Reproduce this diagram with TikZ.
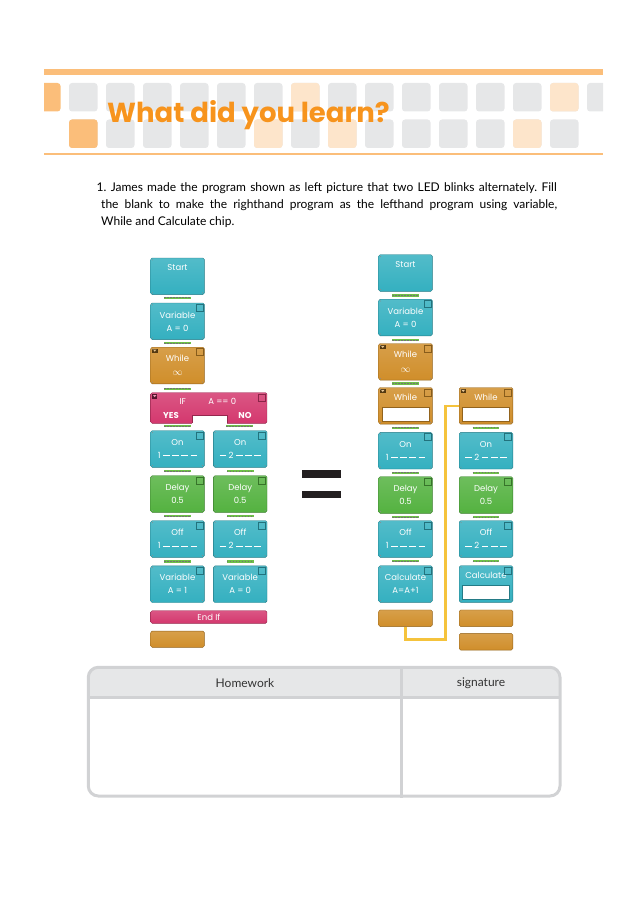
\documentclass[tikz,border=0pt]{standalone}
\usepackage{fontspec}
\setmainfont{Lato}
\newfontfamily\titlefont{Poppins}
\newfontfamily\chipfont{Poppins}
\newcommand\dsh{\rule[2.4pt]{6.5pt}{0.7pt}\hspace{2.6pt}}
\definecolor{tealchip}{RGB}{52,176,192}
\definecolor{greenchip}{RGB}{84,178,64}
\definecolor{orangechip}{RGB}{208,142,42}
\definecolor{ifchip}{RGB}{212,56,110}
\definecolor{barorange}{RGB}{251,190,122}
\definecolor{lightorange}{RGB}{253,229,203}
\definecolor{tilegray}{RGB}{230,231,232}
\definecolor{titleorange}{RGB}{247,148,29}
\definecolor{wireyellow}{RGB}{245,195,60}
\definecolor{pingreen}{RGB}{110,192,72}
\definecolor{tablegray}{RGB}{209,210,212}
\definecolor{headgray}{RGB}{230,231,232}
\definecolor{eqblack}{RGB}{35,31,32}

\begin{document}
\begin{tikzpicture}[x=1pt, y=-1pt,
        chip/.style={draw=#1!70!black, top color=#1!85!white, bottom color=#1, rounded corners=1.5pt,
            minimum width=53.6pt, minimum height=36.6pt, inner sep=0pt, text=white,
            font=\chipfont\fontsize{8.5}{13}\selectfont, align=center},
        plug/.style={fill=pingreen, minimum width=26.7pt, minimum height=2.4pt, inner sep=0pt,
            path picture={\draw[black!55, line width=1pt, dash pattern=on 1.6pt off 1.4pt]
                (path picture bounding box.west) -- (path picture bounding box.east);}},
        chiptext/.style={text=white, font=\chipfont\fontsize{8.5}{9}\selectfont, inner sep=0pt},
        question/.style={anchor=base west, inner sep=0pt, font=\fontsize{12}{14}\selectfont},
        wire/.style={wireyellow, line width=2.3pt}]

        \useasboundingbox (0,0) rectangle (640,904);

        % header band
        \fill[barorange] (44,69) rectangle (603,75.5);
        \begin{scope}
            \clip (44,60) rectangle (603,160);
            \foreach \k in {0,...,14}
                \fill[tilegray, rounded corners=3pt] ({69+37*\k},83) rectangle ++(28.5,28.5);
            \foreach \k/\c in {-1/barorange, 6/lightorange, 13/lightorange}
                \fill[\c, rounded corners=3pt] ({69+37*\k},83) rectangle ++(28.5,28.5);
            \foreach \k in {0,...,13}
                \fill[tilegray, rounded corners=3pt] ({69+37*\k},119.5) rectangle ++(28.5,28.5);
            \foreach \k/\c in {0/barorange, 5/lightorange, 7/lightorange, 12/lightorange}
                \fill[\c, rounded corners=3pt] ({69+37*\k},119.5) rectangle ++(28.5,28.5);
        \end{scope}
        \fill[barorange] (44,153.3) rectangle (603,155);
        \node[anchor=base west, inner sep=0pt, text=titleorange,
            font=\titlefont\bfseries\fontsize{27.5}{28}\selectfont] (title) at (107,123) {What did you learn?};

        % question
        \frenchspacing
        \node[question] (q1) at (96.5,191.5)
            {\makebox[460pt][s]{1. James made the program shown as left picture that two LED blinks alternately. Fill}};
        \node[question] (q2) at (101,208.5)
            {\makebox[456pt][s]{the blank to make the righthand program as the lefthand program using variable,}};
        \node[question] (q3) at (101,225.5) {While and Calculate chip.};

        % left program
        \node[chip=tealchip] (L1) at (177.5,276.3) {Start\\\strut};
        \node[chip=tealchip] (L2) at (177.5,321.3) {Variable\\A = 0};
        \node[chip=orangechip] (L3) at (177.5,365.5) {While\\[1.5pt]{\fontsize{10}{10}\selectfont$\infty$}};
        \node[chip=ifchip, minimum width=116.3pt, minimum height=30.6pt] (LIF) at (208.8,408) {};
        \fill[white] (191.7,415) rectangle (226.7,424.5);
        \draw[ifchip!70!black, line width=0.4pt] (191.7,423.3) |- (226.7,415) -- (226.7,423.3);
        \node[chiptext] (IFt) at (182.7,401.7) {IF};
        \node[chiptext] (IFc) at (222.3,401) {A == 0};
        \node[chiptext, font=\chipfont\bfseries\fontsize{8.5}{9}\selectfont] (IFy) at (171,416) {YES};
        \node[chiptext, font=\chipfont\bfseries\fontsize{8.5}{9}\selectfont] (IFn) at (245,416) {NO};
        \node[chip=tealchip] (L4) at (177.5,449) {On\\1\hspace{2.6pt}\dsh\dsh\dsh\dsh};
        \node[chip=tealchip] (L4b) at (240.2,449) {On\\\dsh 2\hspace{2.6pt}\dsh\dsh\dsh};
        \node[chip=greenchip] (L5) at (177.5,494) {Delay\\0.5};
        \node[chip=greenchip] (L5b) at (240.2,494) {Delay\\0.5};
        \node[chip=tealchip] (L6) at (177.5,539) {Off\\1\hspace{2.6pt}\dsh\dsh\dsh\dsh};
        \node[chip=tealchip] (L6b) at (240.2,539) {Off\\\dsh 2\hspace{2.6pt}\dsh\dsh\dsh};
        \node[chip=tealchip] (L7) at (177.5,584.2) {Variable\\A = 1};
        \node[chip=tealchip] (L7b) at (240.2,584.2) {Variable\\A = 0};
        \node[chip=ifchip, minimum width=116.3pt, minimum height=12.6pt] (LEI) at (208.8,617) {End If};
        \node[chip=orangechip, minimum height=16.3pt] (LE) at (177.5,639.2) {};

        % equals sign
        \fill[eqblack] (301.7,470) rectangle (341,477.5);
        \fill[eqblack] (301.7,490.7) rectangle (341,498.3);

        % right program
        \node[chip=tealchip] (R1) at (405.5,273) {Start\\\strut};
        \node[chip=tealchip] (R2) at (405.5,317.5) {Variable\\A = 0};
        \node[chip=orangechip] (R3) at (405.5,361.8) {While\\[1.5pt]{\fontsize{10}{10}\selectfont$\infty$}};
        \node[chip=orangechip] (R4) at (405.5,405.8) {While\\\strut};
        \node[chip=orangechip] (R4b) at (486,405.8) {While\\\strut};
        \node[chip=tealchip] (R5) at (405.5,450.7) {On\\1\hspace{2.6pt}\dsh\dsh\dsh\dsh};
        \node[chip=tealchip] (R5b) at (486,450.7) {On\\\dsh 2\hspace{2.6pt}\dsh\dsh\dsh};
        \node[chip=greenchip] (R6) at (405.5,495) {Delay\\0.5};
        \node[chip=greenchip] (R6b) at (486,495) {Delay\\0.5};
        \node[chip=tealchip] (R7) at (405.5,539) {Off\\1\hspace{2.6pt}\dsh\dsh\dsh\dsh};
        \node[chip=tealchip] (R7b) at (486,539) {Off\\\dsh 2\hspace{2.6pt}\dsh\dsh\dsh};
        \node[chip=tealchip] (R8) at (405.5,584) {Calculate\\A=A+1};
        \node[chip=tealchip] (R8b) at (486,584) {Calculate\\\strut};
        \node[chip=orangechip, minimum height=16.7pt] (RE) at (405.5,618.3) {};
        \node[chip=orangechip, minimum height=16.7pt] (REb) at (486,618.3) {};
        \node[chip=orangechip, minimum height=16.7pt] (RE2) at (486,641.7) {};

        % chip details
        \foreach \n/\c in {R4/orangechip, R4b/orangechip, R8b/tealchip}
            \filldraw[fill=white, draw=\c!70!black, line width=0.4pt]
                ([shift={(3.5pt,3.2pt)}]\n.south west) rectangle ([shift={(-3.5pt,17.2pt)}]\n.south east);
        \foreach \n/\c in {L2/tealchip, L3/orangechip, LIF/ifchip, L4/tealchip, L4b/tealchip,
                L5/greenchip, L5b/greenchip, L6/tealchip, L6b/tealchip, L7/tealchip, L7b/tealchip,
                R2/tealchip, R3/orangechip, R4/orangechip, R4b/orangechip, R5/tealchip, R5b/tealchip,
                R6/greenchip, R6b/greenchip, R7/tealchip, R7b/tealchip, R8/tealchip, R8b/tealchip}
            \draw[\c!65!black, line width=0.5pt] ([shift={(-8.5pt,-1.5pt)}]\n.north east) rectangle ++(7pt,-7pt);
        \foreach \n/\c in {L3/orangechip, LIF/ifchip, R3/orangechip, R4/orangechip, R4b/orangechip} {
            \fill[\c!40!black] ([shift={(1.5pt,-1.5pt)}]\n.north west) rectangle ++(5.5pt,-4.5pt);
            \fill[\c!50!white] ([shift={(2.5pt,-2.6pt)}]\n.north west) -- ++(3.5pt,0pt) -- ++(-1.75pt,-2pt) -- cycle;
        }
        \foreach \n in {L1, L2, L3, L4, L4b, L5, L5b, L6, L6b, L7, L7b,
                R1, R2, R3, R4, R4b, R5, R5b, R6, R6b, R7, R7b, R8, R8b} {
            \fill[black!45] ([shift={(2pt,2pt)}]\n.south west) circle (0.5pt);
            \fill[black!45] ([shift={(-2pt,2pt)}]\n.south east) circle (0.5pt);
            \fill[black!45] ([shift={(2pt,-2pt)}]\n.north west) circle (0.5pt);
        }

        % plugs between chips
        \foreach \x/\y [count=\i] in {177.5/297.8, 177.5/343, 177.5/388.7, 177.5/426, 239.4/426,
                177.5/471, 240.2/471, 177.5/516.2, 240.2/516.2, 177.5/561.3, 240.2/561.3,
                405.7/295.3, 405.7/340, 405.7/383.3, 405.7/427.7, 486/427.7, 405.7/472.7, 486/472.7,
                405.7/517, 486/517, 405.7/561, 486/561}
            \node[plug] (plug\i) at (\x,\y) {};

        % loop wire
        \coordinate (bend) at (445.5,639.5);
        \draw[wire] (RE.south) |- (bend) |- (R4b.west);

        % homework table
        \begin{scope}
            \clip[rounded corners=10pt] (88.3,667.3) rectangle (560,796);
            \fill[headgray] (88.3,667.3) rectangle (560,697.5);
        \end{scope}
        \draw[tablegray, line width=2.5pt] (88.3,697.5) -- (560,697.5);
        \draw[tablegray, line width=2.5pt] (401.7,667.3) -- (401.7,797.5);
        \draw[tablegray, line width=3pt, rounded corners=10pt] (88.3,667.3) rectangle (560,796);
        \node[font=\fontsize{12}{14}\selectfont, text=black!80] (hw) at (245,683.5) {Homework};
        \node[font=\fontsize{12}{14}\selectfont, text=black!80] (sig) at (481,683.5) {signature};
    \end{tikzpicture}
\end{document}
